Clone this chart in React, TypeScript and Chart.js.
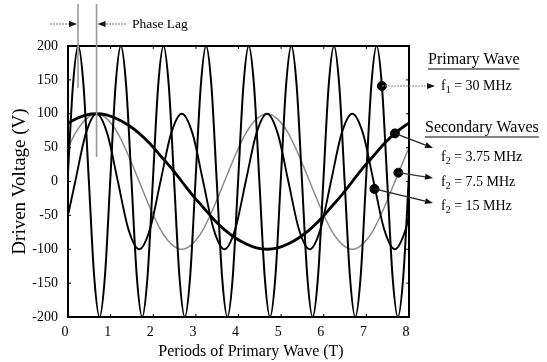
import { useEffect, useRef } from "react";
import { Chart, registerables } from "chart.js";

Chart.register(...registerables);

const FONT = "'Liberation Serif', 'Times New Roman', serif";

// Primary wave f1 = 30 MHz (x in periods T, y in volts)
const primaryX = [
  0, 0.115, 0.24, 0.365, 0.49, 0.615, 0.74, 0.865, 0.99,
  1.115, 1.24, 1.365, 1.49, 1.615, 1.74, 1.865, 1.99,
  2.115, 2.24, 2.365, 2.49, 2.615, 2.74, 2.865, 2.99,
  3.115, 3.24, 3.365, 3.49, 3.615, 3.74, 3.865, 3.99,
  4.115, 4.24, 4.365, 4.49, 4.615, 4.74, 4.865, 4.99,
  5.115, 5.24, 5.365, 5.49, 5.615, 5.74, 5.865, 5.99,
  6.115, 6.24, 6.365, 6.49, 6.615, 6.74, 6.865, 6.99,
  7.115, 7.24, 7.365, 7.49, 7.615, 7.74, 7.865, 7.99, 8,
];
const primaryY = [
  13, 141, 200, 141, 0, -141, -200, -141, 0,
  141, 200, 141, 0, -141, -200, -141, 0,
  141, 200, 141, 0, -141, -200, -141, 0,
  141, 200, 141, 0, -141, -200, -141, 0,
  141, 200, 141, 0, -141, -200, -141, 0,
  141, 200, 141, 0, -141, -200, -141, 0,
  141, 200, 141, 0, -141, -200, -141, 0,
  141, 200, 141, 0, -141, -200, -141, 0, 13,
];

// Secondary waves share the same sample positions
const secondaryX = [
  0, 0.17, 0.42, 0.67, 0.92, 1.17, 1.42, 1.67, 1.92, 2.17, 2.42, 2.67,
  2.92, 3.17, 3.42, 3.67, 3.92, 4.17, 4.42, 4.67, 4.92, 5.17, 5.42, 5.67,
  5.92, 6.17, 6.42, 6.67, 6.92, 7.17, 7.42, 7.67, 7.92, 8,
];
const wave375 = [
  86, 92, 98, 100, 98, 92, 83, 71, 56, 38, 20, 0,
  -20, -38, -56, -71, -83, -92, -98, -100, -98, -92, -83, -71,
  -56, -38, -20, 0, 20, 38, 56, 71, 83, 86,
];
const wave75 = [
  50, 71, 92, 100, 92, 71, 38, 0, -38, -71, -92, -100,
  -92, -71, -38, 0, 38, 71, 92, 100, 92, 71, 38, 0,
  -38, -71, -92, -100, -92, -71, -38, 0, 38, 50,
];
const wave15 = [
  -50, 0, 71, 100, 71, 0, -71, -100, -71, 0, 71, 100,
  71, 0, -71, -100, -71, 0, 71, 100, 71, 0, -71, -100,
  -71, 0, 71, 100, 71, 0, -71, -100, -71, -50,
];

// Marker dots on each curve (primary, 3.75, 7.5, 15)
const markerX = [7.365, 7.67, 7.75, 7.19];
const markerY = [141, 71, 13, -11];

// Phase lag reference lines (primary peak, secondary peak)
const phaseX = [0.235, 0.67];

const legendSub = ["1", "2", "2", "2"];
const legendRest = [" = 30 MHz", " = 3.75 MHz", " = 7.5 MHz", " = 15 MHz"];
const xTitle = "Periods of Primary Wave (T)";
const yTitle = "Driven Voltage (V)";

function pts(xs: number[], ys: number[]) {
  return xs.map((x, i) => ({ x, y: ys[i] }));
}

function arrow(ctx: CanvasRenderingContext2D, x1: number, y1: number, x2: number, y2: number, color: string, dash: number[] = []) {
  const ang = Math.atan2(y2 - y1, x2 - x1);
  const L = 8;
  const W = 3;
  ctx.save();
  ctx.strokeStyle = color;
  ctx.lineWidth = 1.2;
  ctx.setLineDash(dash);
  ctx.beginPath();
  ctx.moveTo(x1, y1);
  ctx.lineTo(x2 - L * Math.cos(ang), y2 - L * Math.sin(ang));
  ctx.stroke();
  ctx.setLineDash([]);
  ctx.fillStyle = "#111";
  ctx.beginPath();
  ctx.moveTo(x2, y2);
  ctx.lineTo(x2 - L * Math.cos(ang) + W * Math.sin(ang), y2 - L * Math.sin(ang) - W * Math.cos(ang));
  ctx.lineTo(x2 - L * Math.cos(ang) - W * Math.sin(ang), y2 - L * Math.sin(ang) + W * Math.cos(ang));
  ctx.closePath();
  ctx.fill();
  ctx.restore();
}

const decorPlugin = {
  id: "decor",
  afterDraw(chart: any) {
    const ctx: CanvasRenderingContext2D = chart.ctx;
    const { left, right, top, bottom } = chart.chartArea;
    const xs = chart.scales.x;
    const ys = chart.scales.y;
    ctx.save();

    // frame
    ctx.strokeStyle = "#000";
    ctx.lineWidth = 2;
    ctx.strokeRect(left, top, right - left, bottom - top);

    // inward ticks
    ctx.lineWidth = 1;
    ctx.beginPath();
    xs.ticks.forEach((t: any) => {
      const p = xs.getPixelForValue(t.value);
      ctx.moveTo(p, bottom);
      ctx.lineTo(p, bottom - 3);
      ctx.moveTo(p, top);
      ctx.lineTo(p, top + 3);
    });
    ys.ticks.forEach((t: any) => {
      const p = ys.getPixelForValue(t.value);
      ctx.moveTo(left, p);
      ctx.lineTo(left + 3, p);
      ctx.moveTo(right, p);
      ctx.lineTo(right - 3, p);
    });
    ctx.stroke();

    // axis titles
    ctx.fillStyle = "#000";
    ctx.font = `16px ${FONT}`;
    ctx.textAlign = "center";
    ctx.textBaseline = "middle";
    ctx.fillText(xTitle, 251, 352);
    ctx.save();
    ctx.translate(20, (top + bottom) / 2);
    ctx.rotate(-Math.PI / 2);
    ctx.font = `19px ${FONT}`;
    ctx.fillText(yTitle, 0, 0);
    ctx.restore();

    // phase lag
    const p1 = xs.getPixelForValue(phaseX[0]);
    const p2 = xs.getPixelForValue(phaseX[1]);
    ctx.strokeStyle = "#9a9a9a";
    ctx.lineWidth = 1.6;
    ctx.beginPath();
    ctx.moveTo(p1, 4);
    ctx.lineTo(p1, 88);
    ctx.moveTo(p2, 4);
    ctx.lineTo(p2, 157);
    ctx.stroke();
    arrow(ctx, 50, 24, p1 - 1, 24, "#777", [2, 1]);
    arrow(ctx, 126, 24, p2 + 1, 24, "#777", [2, 1]);
    ctx.fillStyle = "#000";
    ctx.font = `13.5px ${FONT}`;
    ctx.textAlign = "left";
    ctx.fillText("Phase Lag", 132, 24);

    // legend headings
    ctx.font = `16px ${FONT}`;
    const heading = (txt: string, x: number, y: number) => {
      ctx.fillText(txt, x, y);
      const w = ctx.measureText(txt).width;
      ctx.beginPath();
      ctx.strokeStyle = "#000";
      ctx.lineWidth = 1;
      ctx.moveTo(x, y + 9);
      ctx.lineTo(x + w, y + 9);
      ctx.stroke();
    };
    heading("Primary Wave", 428, 60);
    heading("Secondary Waves", 425, 128);

    // arrows from markers to labels
    const ends = [
      [435, 86, 86],
      [433, 148, 157],
      [433, 178, 182],
      [433, 203, 206],
    ];
    const colors = ["#888", "#222", "#333", "#222"];
    markerX.forEach((mx, i) => {
      const px = xs.getPixelForValue(mx);
      const py = ys.getPixelForValue(markerY[i]);
      arrow(ctx, px, py, ends[i][0], ends[i][1], colors[i], i === 0 ? [2, 1] : []);
      const ty = ends[i][2];
      let tx = 441;
      ctx.fillStyle = "#000";
      ctx.font = `14px ${FONT}`;
      ctx.textAlign = "left";
      ctx.textBaseline = "middle";
      ctx.fillText("f", tx, ty);
      tx += ctx.measureText("f").width;
      ctx.font = `10px ${FONT}`;
      ctx.fillText(legendSub[i], tx, ty + 4);
      tx += ctx.measureText(legendSub[i]).width;
      ctx.font = `14px ${FONT}`;
      ctx.fillText(legendRest[i], tx, ty);
    });

    ctx.restore();
  },
};

export default function App() {
  const ref = useRef<HTMLCanvasElement | null>(null);
  useEffect(() => {
    if (!ref.current) return;
    const lineDs = (label: string, xsArr: number[], ysArr: number[], color: string, width: number, order: number) => ({
      type: "line" as const,
      label,
      data: pts(xsArr, ysArr),
      borderColor: color,
      borderWidth: width,
      pointRadius: 0,
      fill: false,
      cubicInterpolationMode: "monotone" as const,
      order,
    });
    const chart = new Chart(ref.current, {
      type: "line",
      data: {
        datasets: [
          {
            type: "scatter" as const,
            label: "markers",
            data: pts(markerX, markerY),
            backgroundColor: "#000",
            borderColor: "#000",
            pointRadius: 4.5,
            showLine: false,
            order: 0,
          } as any,
          lineDs("f1 = 30 MHz", primaryX, primaryY, "#000", 2, 2),
          lineDs("f2 = 3.75 MHz", secondaryX, wave375, "#000", 2.8, 1),
          lineDs("f2 = 15 MHz", secondaryX, wave15, "#000", 1.9, 3),
          lineDs("f2 = 7.5 MHz", secondaryX, wave75, "#8c8c8c", 1.5, 4),
        ],
      },
      options: {
        animation: false,
        responsive: false,
        maintainAspectRatio: false,
        devicePixelRatio: 1,
        layout: { padding: { left: 0, top: 46, right: 138, bottom: 0 } },
        plugins: {
          legend: { display: false },
          tooltip: { enabled: false },
          title: { display: false },
        },
        scales: {
          x: {
            type: "linear",
            min: 0,
            max: 8,
            grid: { display: false, drawTicks: false, tickLength: 0 },
            border: { display: false },
            ticks: {
              stepSize: 1,
              padding: 7,
              labelOffset: -3,
              color: "#000",
              font: { family: FONT, size: 14 },
            },
            afterFit: (s: any) => {
              s.height = 45;
            },
          },
          y: {
            type: "linear",
            min: -200,
            max: 200,
            grid: { display: false, drawTicks: false, tickLength: 0 },
            border: { display: false },
            ticks: {
              stepSize: 50,
              padding: 10,
              color: "#000",
              font: { family: FONT, size: 14 },
            },
            afterFit: (s: any) => {
              s.width = 68;
            },
          },
        },
      },
      plugins: [decorPlugin],
    });
    return () => chart.destroy();
  }, []);
  return (
    <div style={{ position: "fixed", left: 0, top: 0, width: 547, height: 362, background: "#fff" }}>
      <canvas ref={ref} width={547} height={362} style={{ width: 547, height: 362, display: "block" }} />
    </div>
  );
}
